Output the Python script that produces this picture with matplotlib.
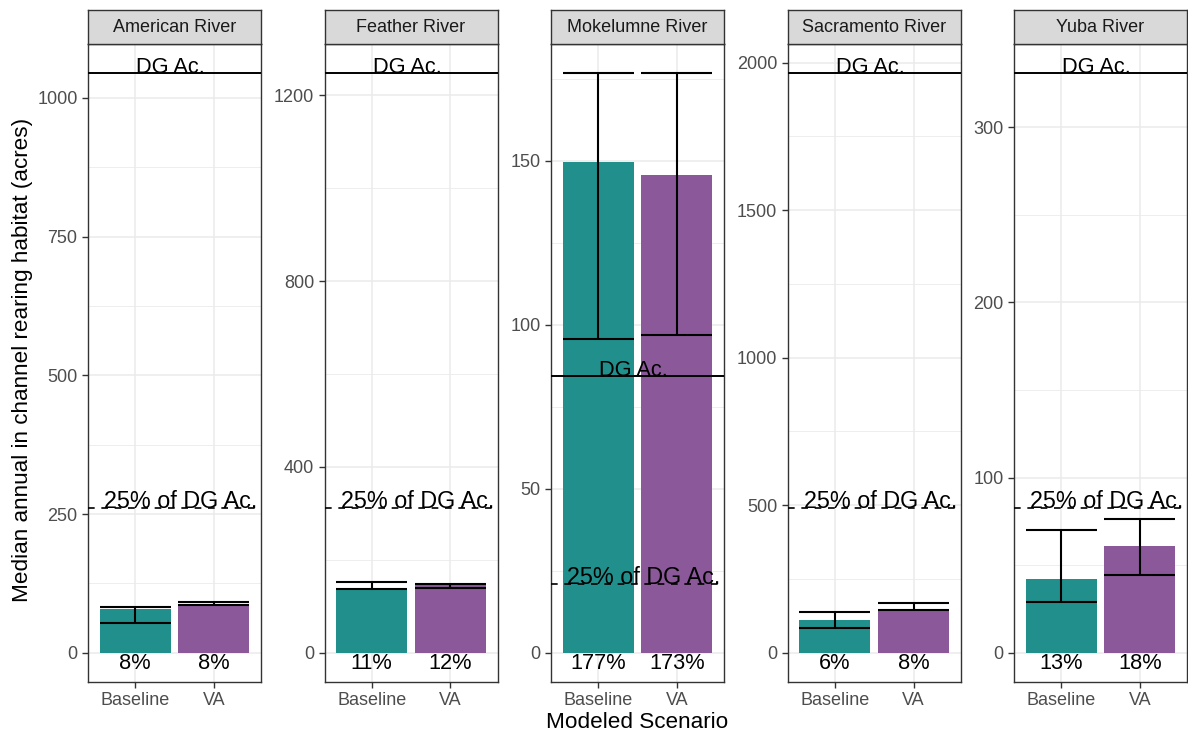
import matplotlib.pyplot as plt
import numpy as np
from matplotlib.ticker import MultipleLocator

plt.rcParams['font.family'] = ['Liberation Sans', 'DejaVu Sans']

# data
rivers = ['American River', 'Feather River', 'Mokelumne River', 'Sacramento River', 'Yuba River']
scenarios = ['Baseline', 'VA']
baseline = [79, 138, 149.5, 110, 42]
va = [85, 149, 145.7, 148, 60.7]
baseline_lo = [53.4, 137, 95.7, 83.4, 29.0]
baseline_hi = [82.2, 152, 176.7, 138.5, 70.2]
va_lo = [86, 139, 96.9, 145, 44.2]
va_hi = [91.2, 148.4, 176.7, 168, 76.3]
dg_acres = [1045, 1248, 84.3, 1965, 331]
pct_baseline = ['8%', '11%', '177%', '6%', '13%']
pct_va = ['8%', '12%', '173%', '8%', '18%']
tick_step = [250, 400, 50, 500, 100]

colors = ['#21908C', '#8B5899']
W, H = 1188, 731
panel_left = [88, 324.5, 551, 787.7, 1014]
panel_w = 173
panel_top, panel_bot = 44, 681.7
strip_top = 10

fig = plt.figure(figsize=(W / 100, H / 100), dpi=100)

for i, river in enumerate(rivers):
    ax = fig.add_axes([panel_left[i] / W, 1 - panel_bot / H,
                       panel_w / W, (panel_bot - panel_top) / H])
    x = np.arange(1, len(scenarios) + 1)
    vals = [baseline[i], va[i]]
    lo = [baseline_lo[i], va_lo[i]]
    hi = [baseline_hi[i], va_hi[i]]
    dg = dg_acres[i]

    ax.bar(x, vals, width=0.9, color=colors, zorder=2)
    ax.vlines(x, lo, hi, color='black', lw=1.5, zorder=3)
    ax.hlines(lo, x - 0.45, x + 0.45, color='black', lw=1.5, zorder=3)
    ax.hlines(hi, x - 0.45, x + 0.45, color='black', lw=1.5, zorder=3)

    # DG Ac. reference lines
    ax.axhline(dg, color='black', lw=1.4, zorder=3)
    ax.axhline(0.25 * dg, color='black', lw=1.2, linestyle=(0, (4, 4)), zorder=3)
    ax.text(1.453, dg, 'DG Ac.', ha='center', va='baseline', fontsize=15.7, zorder=4)
    ax.text(1.58, 0.25 * dg, '25% of DG Ac.', ha='center', va='baseline',
            fontsize=16.8, zorder=4)
    for xi, lab in zip(x, [pct_baseline[i], pct_va[i]]):
        ax.text(xi, 0, lab, ha='center', va='top', fontsize=15.7, zorder=4)

    top = max(dg, max(hi), max(vals))
    pad = 0.05 * top
    ax.set_ylim(-pad, top + pad)
    ax.set_xlim(0.4, 2.6)
    ax.set_xticks(x)
    ax.set_xticklabels(scenarios)
    ax.yaxis.set_major_locator(MultipleLocator(tick_step[i]))
    ax.yaxis.set_minor_locator(MultipleLocator(tick_step[i] / 2))
    ax.tick_params(axis='both', which='major', length=4, width=1, color='#333333',
                   labelcolor='#4D4D4D', labelsize=13, pad=3.5)
    ax.tick_params(axis='y', which='minor', length=0)
    ax.grid(which='major', color='#EBEBEB', lw=1.1, zorder=0)
    ax.grid(which='minor', axis='y', color='#EBEBEB', lw=0.6, zorder=0)
    ax.set_axisbelow(True)
    for s in ax.spines.values():
        s.set_color('#333333')
        s.set_linewidth(1.0)

    # facet strip
    sax = fig.add_axes([panel_left[i] / W, 1 - panel_top / H,
                        panel_w / W, (panel_top - strip_top) / H])
    sax.set_facecolor('#D9D9D9')
    sax.set_xticks([])
    sax.set_yticks([])
    for s in sax.spines.values():
        s.set_color('#333333')
        s.set_linewidth(1.0)
    sax.text(0.5, 0.5, river, ha='center', va='center', fontsize=13,
             color='#1A1A1A', transform=sax.transAxes)

fig.text(23 / W, 1 - 360 / H, 'Median annual in channel rearing habitat (acres)',
         rotation=90, ha='center', va='center', fontsize=16.2)
fig.text(637 / W, 1 - 728 / H, 'Modeled Scenario', ha='center', va='baseline',
         fontsize=16.2)

fig.savefig('out.png', dpi=100)
